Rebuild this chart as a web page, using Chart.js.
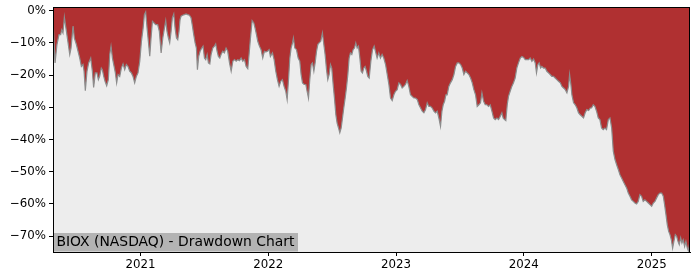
<!DOCTYPE html>
<html lang="en">
<head>
	<meta charset="UTF-8">
	<title>BIOX Drawdown</title>
	<style>
		html, body { margin: 0; padding: 0; background: #fff; }
		#chartBox { width: 700px; height: 280px; }
	</style>
</head>
<body>
	<div id="chartBox"><canvas id="myChart" width="700" height="280"></canvas></div>

	<script src="https://cdn.jsdelivr.net/npm/chart.js"></script>
	<script type="text/javascript">
		// fechas como año decimal, drawdown en %
		var years = [
			2020.318, 2020.332, 2020.347, 2020.363, 2020.376, 2020.384, 2020.394, 2020.405, 2020.413, 2020.421,
			2020.434, 2020.447, 2020.457, 2020.473, 2020.483, 2020.499, 2020.512, 2020.525, 2020.538, 2020.551,
			2020.559, 2020.569, 2020.582, 2020.595, 2020.611, 2020.624, 2020.634, 2020.647, 2020.660, 2020.671,
			2020.681, 2020.694, 2020.702, 2020.713, 2020.723, 2020.736, 2020.749, 2020.760, 2020.770, 2020.781,
			2020.794, 2020.804, 2020.814, 2020.825, 2020.838, 2020.851, 2020.864, 2020.877, 2020.890, 2020.903,
			2020.916, 2020.929, 2020.942, 2020.955, 2020.968, 2020.981, 2020.995, 2021.008, 2021.021, 2021.031,
			2021.041, 2021.052, 2021.062, 2021.073, 2021.083, 2021.094, 2021.107, 2021.120, 2021.135, 2021.148,
			2021.162, 2021.175, 2021.188, 2021.198, 2021.208, 2021.219, 2021.229, 2021.240, 2021.250, 2021.261,
			2021.271, 2021.282, 2021.292, 2021.302, 2021.310, 2021.318, 2021.331, 2021.344, 2021.357, 2021.370,
			2021.383, 2021.396, 2021.407, 2021.417, 2021.428, 2021.438, 2021.446, 2021.456, 2021.467, 2021.480,
			2021.490, 2021.501, 2021.511, 2021.522, 2021.532, 2021.543, 2021.553, 2021.566, 2021.579, 2021.589,
			2021.600, 2021.610, 2021.621, 2021.631, 2021.644, 2021.657, 2021.670, 2021.683, 2021.697, 2021.710,
			2021.723, 2021.736, 2021.749, 2021.762, 2021.775, 2021.788, 2021.801, 2021.814, 2021.827, 2021.840,
			2021.850, 2021.861, 2021.874, 2021.887, 2021.897, 2021.908, 2021.918, 2021.931, 2021.944, 2021.957,
			2021.970, 2021.983, 2021.994, 2022.007, 2022.017, 2022.033, 2022.046, 2022.059, 2022.072, 2022.085,
			2022.098, 2022.111, 2022.124, 2022.137, 2022.148, 2022.158, 2022.169, 2022.179, 2022.190, 2022.197,
			2022.208, 2022.221, 2022.234, 2022.247, 2022.257, 2022.268, 2022.281, 2022.294, 2022.304, 2022.315,
			2022.325, 2022.336, 2022.346, 2022.357, 2022.367, 2022.378, 2022.388, 2022.398, 2022.411, 2022.424,
			2022.435, 2022.445, 2022.456, 2022.466, 2022.477, 2022.487, 2022.497, 2022.508, 2022.518, 2022.529,
			2022.539, 2022.550, 2022.560, 2022.571, 2022.581, 2022.591, 2022.602, 2022.612, 2022.623, 2022.633,
			2022.643, 2022.654, 2022.664, 2022.675, 2022.685, 2022.696, 2022.706, 2022.717, 2022.727, 2022.737,
			2022.748, 2022.758, 2022.769, 2022.779, 2022.790, 2022.803, 2022.816, 2022.829, 2022.839, 2022.852,
			2022.865, 2022.878, 2022.891, 2022.904, 2022.918, 2022.931, 2022.944, 2022.957, 2022.970, 2022.983,
			2022.996, 2023.009, 2023.022, 2023.035, 2023.048, 2023.061, 2023.074, 2023.087, 2023.100, 2023.113,
			2023.126, 2023.139, 2023.152, 2023.166, 2023.179, 2023.192, 2023.205, 2023.218, 2023.231, 2023.244,
			2023.257, 2023.270, 2023.283, 2023.296, 2023.309, 2023.322, 2023.335, 2023.348, 2023.359, 2023.369,
			2023.380, 2023.390, 2023.400, 2023.413, 2023.426, 2023.440, 2023.453, 2023.466, 2023.479, 2023.492,
			2023.505, 2023.518, 2023.531, 2023.544, 2023.557, 2023.570, 2023.583, 2023.596, 2023.609, 2023.622,
			2023.635, 2023.648, 2023.661, 2023.672, 2023.685, 2023.698, 2023.711, 2023.724, 2023.737, 2023.750,
			2023.763, 2023.776, 2023.789, 2023.802, 2023.815, 2023.828, 2023.838, 2023.849, 2023.859, 2023.870,
			2023.880, 2023.893, 2023.906, 2023.919, 2023.932, 2023.945, 2023.958, 2023.972, 2023.985, 2023.998,
			2024.011, 2024.024, 2024.037, 2024.050, 2024.063, 2024.076, 2024.089, 2024.099, 2024.110, 2024.120,
			2024.131, 2024.141, 2024.154, 2024.167, 2024.180, 2024.193, 2024.206, 2024.219, 2024.232, 2024.245,
			2024.258, 2024.271, 2024.285, 2024.298, 2024.311, 2024.324, 2024.337, 2024.350, 2024.358, 2024.368,
			2024.376, 2024.389, 2024.402, 2024.415, 2024.428, 2024.441, 2024.454, 2024.467, 2024.480, 2024.493,
			2024.507, 2024.520, 2024.530, 2024.543, 2024.556, 2024.569, 2024.582, 2024.595, 2024.608, 2024.621,
			2024.634, 2024.647, 2024.661, 2024.674, 2024.687, 2024.700, 2024.713, 2024.726, 2024.739, 2024.752,
			2024.765, 2024.778, 2024.791, 2024.804, 2024.817, 2024.830, 2024.843, 2024.856, 2024.869, 2024.882,
			2024.895, 2024.908, 2024.921, 2024.934, 2024.947, 2024.961, 2024.974, 2024.987, 2025.000, 2025.013,
			2025.026, 2025.039, 2025.052, 2025.065, 2025.078, 2025.091, 2025.101, 2025.112, 2025.122, 2025.133,
			2025.143, 2025.154, 2025.164, 2025.174, 2025.185, 2025.195, 2025.206, 2025.216, 2025.227, 2025.237,
			2025.247, 2025.258, 2025.268, 2025.279, 2025.287, 2025.298
		];
		var drawdown = [
			-4.3, -16.2, -10.5, -7.4, -7.4, -5.9, -6.9, -2.0, -4.3, -6.4,
			-10.0, -13.6, -11.6, -4.8, -8.5, -10.5, -12.6, -14.7, -17.3, -16.7,
			-18.8, -24.8, -18.8, -16.2, -14.7, -18.8, -23.8, -19.3, -19.3, -21.4,
			-20.4, -17.8, -18.3, -20.4, -21.9, -23.3, -21.4, -13.6, -11.0, -14.7,
			-17.3, -19.3, -22.4, -19.8, -20.4, -17.8, -16.5, -18.3, -16.7, -17.3,
			-18.8, -19.3, -20.4, -22.4, -20.4, -19.3, -15.7, -9.5, -5.4, -1.2,
			-0.4, -5.4, -9.5, -14.1, -8.5, -3.3, -3.8, -4.3, -4.3, -6.4,
			-13.1, -8.5, -5.4, -3.1, -6.4, -8.5, -10.0, -6.4, -2.2, -1.0,
			-5.4, -8.5, -9.0, -6.4, -2.8, -1.7, -1.4, -1.2, -1.0, -1.2,
			-1.4, -2.2, -4.8, -7.4, -10.0, -11.6, -18.3, -14.2, -12.6, -11.6,
			-11.0, -14.7, -15.2, -13.6, -16.2, -16.5, -13.6, -11.6, -11.0, -10.3,
			-12.6, -14.2, -14.7, -13.6, -12.6, -13.1, -11.6, -12.6, -16.2, -18.8,
			-15.7, -15.2, -15.7, -15.2, -15.5, -14.7, -15.7, -15.2, -17.3, -18.0,
			-13.6, -8.5, -3.1, -3.8, -5.4, -7.4, -9.5, -11.0, -12.1, -14.7,
			-12.6, -12.8, -12.6, -12.1, -14.2, -13.1, -15.2, -18.8, -21.4, -23.5,
			-21.9, -21.4, -23.5, -25.0, -27.6, -21.9, -14.7, -11.6, -10.0, -8.5,
			-11.6, -12.1, -14.7, -15.7, -19.8, -22.4, -22.9, -22.9, -25.0, -27.1,
			-21.4, -16.7, -16.2, -18.8, -16.2, -12.6, -10.5, -10.0, -9.5, -6.9,
			-10.5, -13.6, -18.3, -21.4, -19.8, -16.7, -17.8, -22.9, -27.1, -32.3,
			-34.9, -36.4, -37.9, -36.4, -33.3, -30.2, -27.1, -24.0, -19.8, -14.7,
			-13.1, -13.6, -12.1, -11.6, -10.0, -11.6, -11.0, -14.7, -18.8, -19.3,
			-17.8, -17.3, -18.8, -20.4, -20.9, -15.7, -12.1, -11.0, -12.6, -14.7,
			-13.1, -14.7, -13.6, -14.7, -16.7, -19.8, -22.9, -27.1, -27.9, -26.1,
			-25.0, -24.5, -22.4, -22.9, -24.0, -23.5, -22.9, -21.7, -23.5, -26.1,
			-26.6, -27.1, -27.1, -27.6, -29.2, -30.2, -31.2, -31.7, -30.7, -28.6,
			-29.7, -29.7, -30.2, -31.2, -31.7, -31.2, -33.3, -35.9, -31.2, -29.2,
			-28.1, -26.1, -26.1, -23.5, -22.4, -21.4, -19.8, -17.3, -16.2, -16.2,
			-16.7, -17.8, -19.8, -18.8, -19.3, -19.8, -20.9, -22.4, -24.5, -26.1,
			-29.7, -29.2, -28.6, -25.5, -28.1, -29.2, -29.2, -29.7, -29.2, -31.2,
			-33.3, -33.8, -33.3, -33.8, -32.8, -31.7, -33.3, -33.8, -34.1, -29.2,
			-26.6, -25.0, -23.5, -22.4, -20.9, -17.8, -16.2, -14.7, -14.2, -14.5,
			-15.2, -15.2, -15.2, -14.7, -15.7, -15.0, -16.2, -19.3, -16.7, -16.2,
			-17.8, -17.3, -17.8, -17.8, -18.8, -19.3, -19.8, -20.4, -20.4, -20.9,
			-21.4, -21.9, -22.4, -23.5, -24.0, -24.5, -25.5, -23.5, -19.8, -22.9,
			-26.1, -28.6, -29.2, -30.2, -31.7, -32.3, -32.8, -33.3, -31.7, -30.7,
			-31.0, -30.2, -30.2, -29.2, -29.7, -31.2, -33.3, -33.8, -36.4, -36.9,
			-36.4, -36.9, -33.8, -33.3, -36.4, -43.7, -46.2, -47.8, -49.3, -50.9,
			-51.9, -53.0, -54.0, -55.0, -56.6, -57.6, -58.7, -59.2, -59.7, -60.0,
			-59.2, -57.1, -57.6, -59.2, -58.7, -59.2, -59.7, -60.2, -60.7, -59.7,
			-59.2, -58.1, -57.1, -56.6, -56.6, -57.6, -60.2, -63.3, -66.4, -68.5,
			-69.5, -71.1, -73.7, -71.6, -69.5, -70.0, -71.6, -72.6, -70.5, -72.1,
			-71.1, -73.2, -71.6, -73.7, -74.5, -72.1
		];
		var yearTicks = [2021, 2022, 2023, 2024, 2025];
		var pctTicks = [0, -10, -20, -30, -40, -50, -60, -70];
		var chartTitle = 'BIOX (NASDAQ) - Drawdown Chart';

		var puntos = years.map(function(x, i) { return { x: x, y: drawdown[i] }; });

		// fondo rojo del area de trazado, borde y caja del titulo
		var fondoPlugin = {
			id: 'fondo',
			beforeDraw: function(chart) {
				var a = chart.chartArea, ctx = chart.ctx;
				ctx.save();
				ctx.fillStyle = '#b03031';
				ctx.fillRect(a.left, a.top, a.right - a.left, a.bottom - a.top);
				ctx.restore();
			},
			afterDraw: function(chart) {
				var a = chart.chartArea, ctx = chart.ctx;
				ctx.save();
				ctx.font = '13.9px "DejaVu Sans"';
				var w = ctx.measureText(chartTitle).width;
				ctx.fillStyle = '#b3b3b3';
				ctx.fillRect(a.left, a.bottom - 19, w + 7, 18.5);
				ctx.fillStyle = '#000';
				ctx.textBaseline = 'middle';
				ctx.fillText(chartTitle, a.left + 3.4, a.bottom - 9.6);
				ctx.strokeStyle = '#000';
				ctx.lineWidth = 1;
				ctx.strokeRect(Math.round(a.left) + 0.5, Math.round(a.top) + 0.5, Math.round(a.right - a.left) - 1, Math.round(a.bottom - a.top));
				ctx.restore();
			}
		};

		var ctx = document.getElementById('myChart');
		var myChart = new Chart(ctx, {
			type: 'line',
			data: {
				datasets: [{
					data: puntos,
					borderColor: '#8c8c8c',
					borderWidth: 1.2,
					backgroundColor: '#ededed',
					fill: 'start',
					pointRadius: 0,
					tension: 0
				}]
			},
			options: {
				responsive: false,
				animation: false,
				devicePixelRatio: 1,
				layout: { padding: { top: 7, right: 10, left: 0, bottom: 0 } },
				plugins: {
					legend: { display: false },
					tooltip: { enabled: false }
				},
				scales: {
					x: {
						type: 'linear',
						min: 2020.316,
						max: 2025.300,
						afterBuildTicks: function(scale) {
							scale.ticks = yearTicks.map(function(v) { return { value: v }; });
						},
						afterFit: function(scale) { scale.height = 28; scale.paddingLeft = 0; scale.paddingRight = 0; },
						ticks: {
							color: '#000',
							font: { family: 'DejaVu Sans', size: 11.8 },
							padding: 2,
							maxRotation: 0,
							callback: function(v) { return String(v); }
						},
						grid: { drawOnChartArea: false, drawTicks: true, tickLength: 4, color: '#000' },
						border: { display: true, color: '#000', width: 1 }
					},
					y: {
						min: -74.9,
						max: 1.15,
						afterBuildTicks: function(scale) {
							scale.ticks = pctTicks.map(function(v) { return { value: v }; });
						},
						afterFit: function(scale) { scale.width = 53; scale.paddingTop = 0; scale.paddingBottom = 0; },
						ticks: {
							color: '#000',
							font: { family: 'DejaVu Sans', size: 11.8 },
							padding: 3,
							callback: function(v) { return v < 0 ? '\u2212' + Math.abs(v) + '%' : v + '%'; }
						},
						grid: { drawOnChartArea: false, drawTicks: true, tickLength: 4, color: '#000' },
						border: { display: true, color: '#000', width: 1 }
					}
				}
			},
			plugins: [fondoPlugin]
		});
	</script>
</body>
</html>
